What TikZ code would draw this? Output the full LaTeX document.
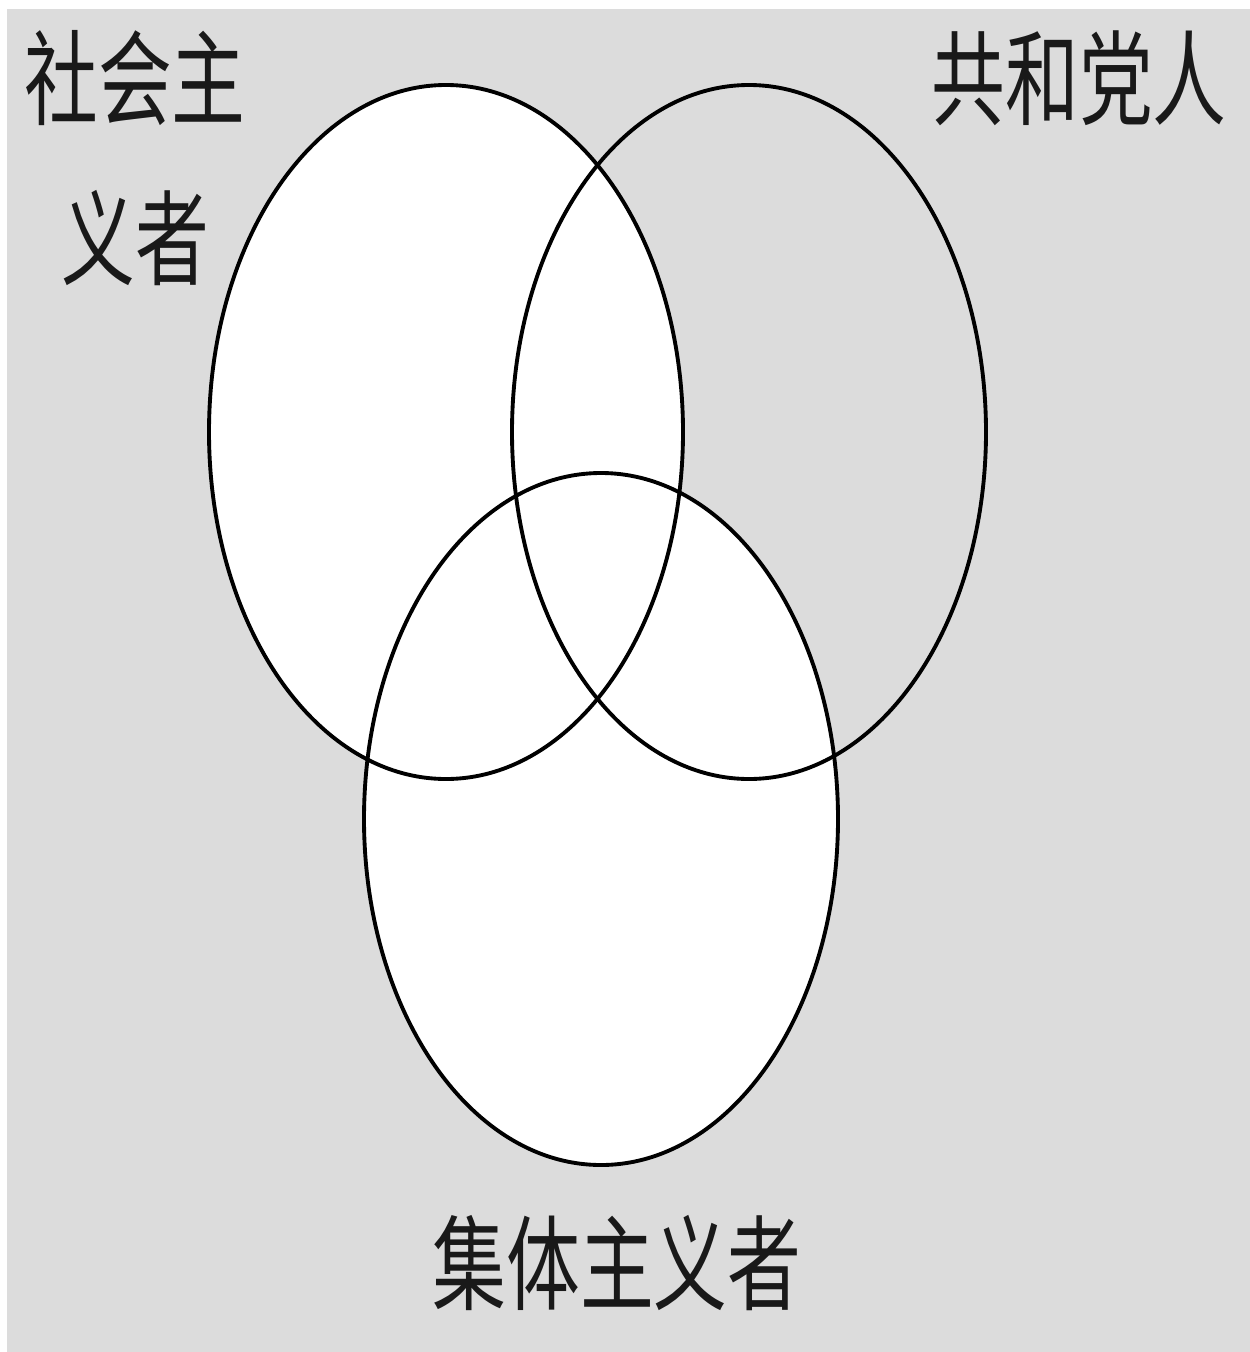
\documentclass[tikz,border=0pt]{standalone}
\usepackage{fontspec}
\newfontfamily\cjk{Noto Sans CJK SC}
\definecolor{bggray}{HTML}{DCDCDC}
\tikzset{
  ring/.style = {line width=2.2pt, draw=black},
  setname/.style = {font=\cjk\fontsize{42}{42}\selectfont, inner sep=0pt,
    text=black!90, yscale=1.4, transform shape},
}
\begin{document}
\begin{tikzpicture}[x=0.02cm, y=-0.02cm]
\useasboundingbox (0,0) rectangle (1250,1352);
\fill[bggray] (7,9) rectangle (1250,1352);
\coordinate (S) at (446,432);
\coordinate (R) at (749,432);
\coordinate (C) at (601,819);
\fill[white] (S) ellipse [x radius=237, y radius=347];
\fill[white] (C) ellipse [x radius=237, y radius=346];
\draw[ring] (S) ellipse [x radius=237, y radius=347];
\draw[ring] (R) ellipse [x radius=237, y radius=347];
\draw[ring] (C) ellipse [x radius=237, y radius=346];
\node[setname] (soc1) at (135,78) {社会主};
\node[setname] (soc2) at (135,238) {义者};
\node[setname] (rep) at (1079,78) {共和党人};
\node[setname] (col) at (617,1263) {集体主义者};
\end{tikzpicture}
\end{document}
